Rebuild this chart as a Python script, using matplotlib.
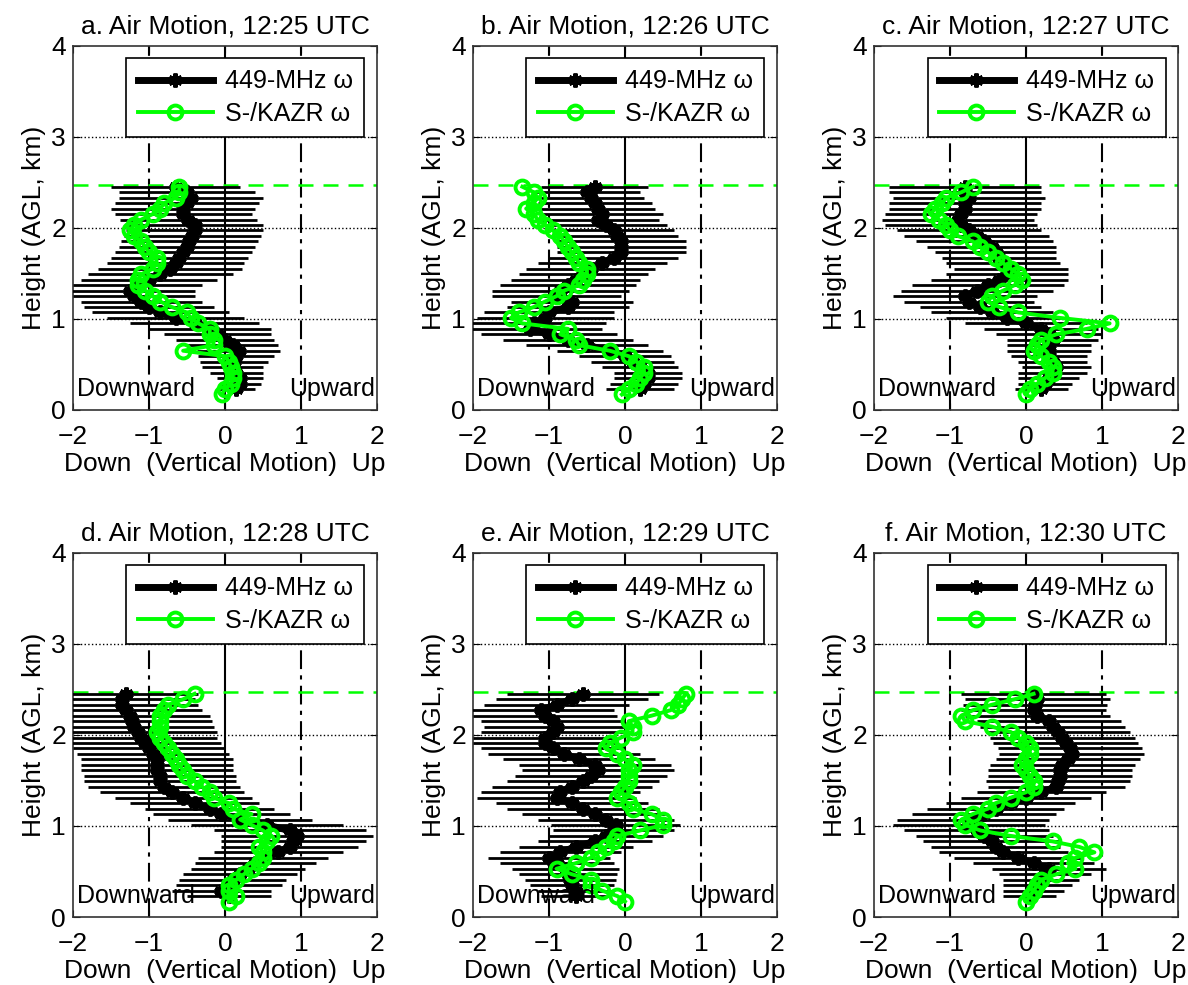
import numpy as np
import matplotlib
matplotlib.use("Agg")
import matplotlib.pyplot as plt

plt.rcParams['font.family'] = ['Liberation Sans', 'DejaVu Sans']

# range gates (km AGL); the 449-MHz profile starts one gate higher
gate_km = [0.17, 0.23, 0.29, 0.35, 0.41, 0.47, 0.53, 0.59, 0.65, 0.71,
           0.77, 0.83, 0.89, 0.95, 1.01, 1.07, 1.13, 1.19, 1.25, 1.31,
           1.37, 1.43, 1.49, 1.55, 1.61, 1.67, 1.73, 1.79, 1.85, 1.91,
           1.97, 2.03, 2.09, 2.15, 2.21, 2.27, 2.33, 2.39, 2.45]
gate_km_449 = gate_km[1:]

titles = ["a. Air Motion, 12:25 UTC", "b. Air Motion, 12:26 UTC",
          "c. Air Motion, 12:27 UTC", "d. Air Motion, 12:28 UTC",
          "e. Air Motion, 12:29 UTC", "f. Air Motion, 12:30 UTC"]

# 449-MHz profiler vertical motion (bottom -> top)
w449_a = [0.15, 0.2, 0.2, 0.15, 0.1, 0.12, 0.15, 0.18, 0.1, 0.0,
          -0.1, -0.2, -0.4, -0.65, -0.85, -1.0, -1.1, -1.2, -1.25, -1.15,
          -1.0, -0.85, -0.72, -0.65, -0.6, -0.55, -0.5, -0.47, -0.43, -0.4,
          -0.4, -0.48, -0.55, -0.55, -0.5, -0.45, -0.5, -0.65]
w449_b = [0.2, 0.25, 0.3, 0.3, 0.2, 0.1, 0.0, -0.2, -0.5, -0.75,
          -1.0, -1.25, -1.2, -1.05, -1.0, -0.75, -0.7, -0.9, -0.85, -0.75,
          -0.65, -0.55, -0.45, -0.3, -0.15, -0.05, -0.05, -0.05, -0.1, -0.15,
          -0.25, -0.35, -0.3, -0.35, -0.4, -0.45, -0.5, -0.4]
w449_c = [0.2, 0.25, 0.3, 0.35, 0.4, 0.35, 0.3, 0.3, 0.3, 0.35,
          0.3, 0.2, 0.0, -0.25, -0.45, -0.6, -0.75, -0.8, -0.65, -0.5,
          -0.35, -0.25, -0.2, -0.3, -0.35, -0.4, -0.45, -0.55, -0.65, -0.75,
          -0.85, -0.9, -0.85, -0.8, -0.8, -0.75, -0.8, -0.8]
w449_d = [0.05, -0.05, 0.05, 0.1, 0.2, 0.3, 0.4, 0.5, 0.7, 0.85,
          0.9, 0.95, 0.85, 0.55, 0.2, -0.05, -0.2, -0.4, -0.55, -0.7,
          -0.8, -0.85, -0.85, -0.9, -0.9, -0.9, -0.95, -1.0, -1.05, -1.1,
          -1.15, -1.2, -1.22, -1.25, -1.3, -1.35, -1.35, -1.3]
w449_e = [-0.65, -0.65, -0.7, -0.72, -0.75, -0.78, -0.9, -1.0, -0.85, -0.65,
          -0.4, -0.25, -0.15, -0.12, -0.25, -0.4, -0.55, -0.7, -0.9, -0.85,
          -0.7, -0.55, -0.45, -0.35, -0.4, -0.6, -0.8, -0.95, -1.05, -1.05,
          -0.95, -0.9, -0.95, -1.05, -1.1, -0.9, -0.7, -0.55]
w449_f = [0.05, 0.1, 0.15, 0.2, 0.25, 0.3, 0.1, -0.1, -0.3, -0.4,
          -0.45, -0.55, -0.65, -0.75, -0.7, -0.55, -0.4, -0.2, 0.0, 0.2,
          0.4, 0.42, 0.45, 0.45, 0.48, 0.55, 0.6, 0.58, 0.52, 0.48,
          0.42, 0.35, 0.3, 0.15, 0.1, 0.12, 0.15, 0.1]

# 449-MHz uncertainty (half width of the horizontal bars)
err_a = [0.25, 0.27, 0.3, 0.35, 0.4, 0.45, 0.5, 0.55, 0.6, 0.65,
         0.7, 0.8, 0.85, 0.9, 0.9, 0.85, 0.8, 0.8, 0.85, 0.85,
         0.9, 0.95, 0.95, 0.9, 0.9, 0.9, 0.9, 0.9, 0.9, 0.9,
         0.9, 0.9, 0.9, 0.95, 0.95, 0.95, 0.9, 0.85]
err_b = [0.45, 0.45, 0.45, 0.45, 0.5, 0.55, 0.6, 0.7, 0.8, 0.85,
         0.9, 0.95, 0.95, 0.9, 0.85, 0.8, 0.8, 0.85, 0.9, 0.9,
         0.85, 0.85, 0.85, 0.85, 0.85, 0.85, 0.85, 0.85, 0.8, 0.8,
         0.8, 0.8, 0.8, 0.75, 0.75, 0.7, 0.7, 0.7]
err_c = [0.35, 0.35, 0.4, 0.45, 0.45, 0.45, 0.5, 0.55, 0.55, 0.6,
         0.7, 0.75, 0.8, 0.8, 0.8, 0.8, 0.85, 0.95, 1.0, 1.0,
         0.9, 0.8, 0.75, 0.75, 0.75, 0.8, 0.85, 0.9, 0.95, 0.95,
         1.0, 1.0, 1.0, 1.0, 1.0, 1.0, 1.0, 1.0]
err_d = [0.55, 0.65, 0.7, 0.7, 0.75, 0.75, 0.8, 0.85, 0.85, 0.9,
         0.95, 1.0, 1.0, 1.0, 0.95, 0.9, 0.85, 0.85, 0.9, 0.95,
         1.0, 1.0, 1.0, 1.0, 1.0, 1.0, 1.0, 1.0, 1.0, 1.0,
         1.05, 1.05, 1.05, 1.05, 1.0, 1.0, 0.95, 0.95]
err_e = [0.45, 0.5, 0.55, 0.6, 0.65, 0.7, 0.75, 0.8, 0.8, 0.75,
         0.75, 0.75, 0.8, 0.85, 0.9, 0.95, 1.0, 1.0, 1.05, 1.05,
         1.05, 1.0, 1.0, 1.0, 1.0, 1.0, 1.0, 0.95, 0.95, 0.95,
         0.95, 0.95, 0.95, 0.95, 0.95, 0.95, 1.0, 1.0]
err_f = [0.35, 0.4, 0.45, 0.5, 0.6, 0.75, 0.8, 0.85, 0.85, 0.85,
         0.9, 0.9, 0.95, 1.0, 1.0, 0.95, 0.9, 0.85, 0.85, 0.85,
         0.9, 0.95, 0.95, 0.95, 0.95, 0.95, 0.95, 0.95, 0.95, 0.95,
         0.95, 0.95, 0.95, 0.95, 0.95, 0.95, 0.95, 0.95]

# S-/KAZR retrieved vertical motion (bottom -> top)
wkazr_a = [-0.04, 0.0, 0.08, 0.1, 0.1, 0.08, 0.05, 0.0, -0.55, -0.15,
           -0.15, -0.2, -0.2, -0.35, -0.45, -0.5, -0.7, -0.85, -0.95, -1.05,
           -1.15, -1.15, -1.1, -0.95, -0.9, -0.9, -1.0, -1.05, -1.1, -1.2,
           -1.25, -1.2, -1.1, -0.95, -0.85, -0.8, -0.65, -0.6, -0.6]
wkazr_b = [-0.04, 0.05, 0.15, 0.2, 0.25, 0.25, 0.15, 0.05, -0.2, -0.6,
           -0.65, -0.85, -0.75, -1.35, -1.5, -1.4, -1.2, -1.05, -0.9, -0.8,
           -0.6, -0.55, -0.5, -0.5, -0.6, -0.65, -0.7, -0.75, -0.8, -0.85,
           -0.95, -1.05, -1.15, -1.2, -1.3, -1.2, -1.15, -1.2, -1.35]
wkazr_c = [0.0, 0.05, 0.15, 0.25, 0.35, 0.35, 0.3, 0.2, 0.1, 0.15,
           0.2, 0.4, 0.8, 1.1, 0.45, -0.1, -0.35, -0.5, -0.45, -0.3,
           -0.15, -0.05, -0.1, -0.2, -0.3, -0.4, -0.5, -0.6, -0.7, -0.9,
           -1.0, -1.05, -1.15, -1.25, -1.2, -1.1, -1.05, -0.85, -0.7]
wkazr_d = [0.05, 0.15, 0.05, 0.05, 0.15, 0.25, 0.35, 0.45, 0.5, 0.5,
           0.45, 0.55, 0.6, 0.5, 0.35, 0.2, 0.35, 0.1, 0.05, -0.15,
           -0.2, -0.3, -0.4, -0.5, -0.55, -0.6, -0.65, -0.7, -0.75, -0.8,
           -0.85, -0.9, -0.85, -0.85, -0.85, -0.8, -0.75, -0.55, -0.4]
wkazr_e = [0.0, -0.1, -0.3, -0.45, -0.45, -0.7, -0.9, -0.65, -0.45, -0.35,
           -0.25, -0.15, -0.1, 0.2, 0.5, 0.5, 0.35, 0.1, 0.05, -0.1,
           -0.05, 0.0, 0.05, 0.05, 0.05, 0.1, 0.0, -0.1, -0.25, -0.2,
           -0.05, 0.1, 0.1, 0.05, 0.35, 0.6, 0.7, 0.75, 0.8]
wkazr_f = [0.0, 0.05, 0.1, 0.15, 0.2, 0.4, 0.65, 0.55, 0.65, 0.9,
           0.7, 0.35, -0.2, -0.6, -0.8, -0.85, -0.7, -0.5, -0.4, -0.2,
           0.0, 0.1, 0.1, 0.05, 0.0, -0.05, 0.0, 0.05, 0.05, 0.0,
           -0.1, -0.2, -0.45, -0.8, -0.85, -0.7, -0.45, -0.15, 0.1]

w449 = [w449_a, w449_b, w449_c, w449_d, w449_e, w449_f]
err449 = [err_a, err_b, err_c, err_d, err_e, err_f]
wkazr = [wkazr_a, wkazr_b, wkazr_c, wkazr_d, wkazr_e, wkazr_f]

top_km = 2.47   # green dashed line

fig = plt.figure(figsize=(11.88, 9.85), dpi=100)
lefts = [0.0614, 0.3981, 0.7357]
bottoms = [0.5838, 0.069]
green = (0, 1, 0)

for i in range(6):
	ax = fig.add_axes([lefts[i % 3], bottoms[i // 3], 0.2559, 0.3700])

	ax.axvline(-1, color='k', ls=(0, (9, 3, 2, 3)), lw=1.5, zorder=1)
	ax.axvline(1, color='k', ls=(0, (9, 3, 2, 3)), lw=1.5, zorder=1)
	ax.axvline(0, color='k', ls='-', lw=1.5, zorder=1)
	for yy in [1, 2, 3]:
		ax.axhline(yy, color='k', ls=':', lw=1, zorder=1)
	ax.axhline(top_km, color=green, ls=(0, (6, 4)), lw=1.8, zorder=2)

	ax.errorbar(w449[i], gate_km_449, xerr=err449[i], fmt='none',
		ecolor='k', elinewidth=2, capsize=0, zorder=3)
	ax.plot(w449[i], gate_km_449, '-', color='k', lw=5,
		marker=(6, 2, 0), ms=10, mew=3, label=u'449-MHz \u03c9', zorder=4)
	ax.plot(wkazr[i], gate_km, '-', color=green, lw=2.8,
		marker='o', ms=10, mfc='none', mec=green, mew=2.8,
		label=u'S-/KAZR \u03c9', zorder=5)

	ax.text(-1.95, 0.1, 'Downward', fontsize=18, ha='left', va='bottom', zorder=6)
	ax.text(1.97, 0.1, 'Upward', fontsize=18, ha='right', va='bottom', zorder=6)

	ax.set_xlim(-2, 2)
	ax.set_ylim(0, 4)
	ax.set_xticks([-2, -1, 0, 1, 2])
	ax.set_yticks([0, 1, 2, 3, 4])
	ax.tick_params(direction='in', top=True, right=True, labelsize=19, length=5)
	ax.tick_params(axis='x', pad=11)
	ax.tick_params(axis='y', pad=5)
	for sp in ax.spines.values():
		sp.set_color('#333333')
		sp.set_linewidth(1.2)

	ax.set_title(titles[i], fontsize=19, pad=9)
	ax.set_xlabel('Down  (Vertical Motion)  Up', fontsize=19, labelpad=2)
	ax.set_ylabel('Height (AGL, km)', fontsize=19, labelpad=4)

	leg = ax.legend(loc='upper right', fontsize=18, numpoints=1,
		handlelength=3.0, handletextpad=0.5, fancybox=False, framealpha=1,
		edgecolor='k', borderaxespad=0.5, borderpad=0.45, labelspacing=0.35)
	leg.get_frame().set_linewidth(1.2)
	leg.set_zorder(10)

fig.savefig('out.png', dpi=100)
